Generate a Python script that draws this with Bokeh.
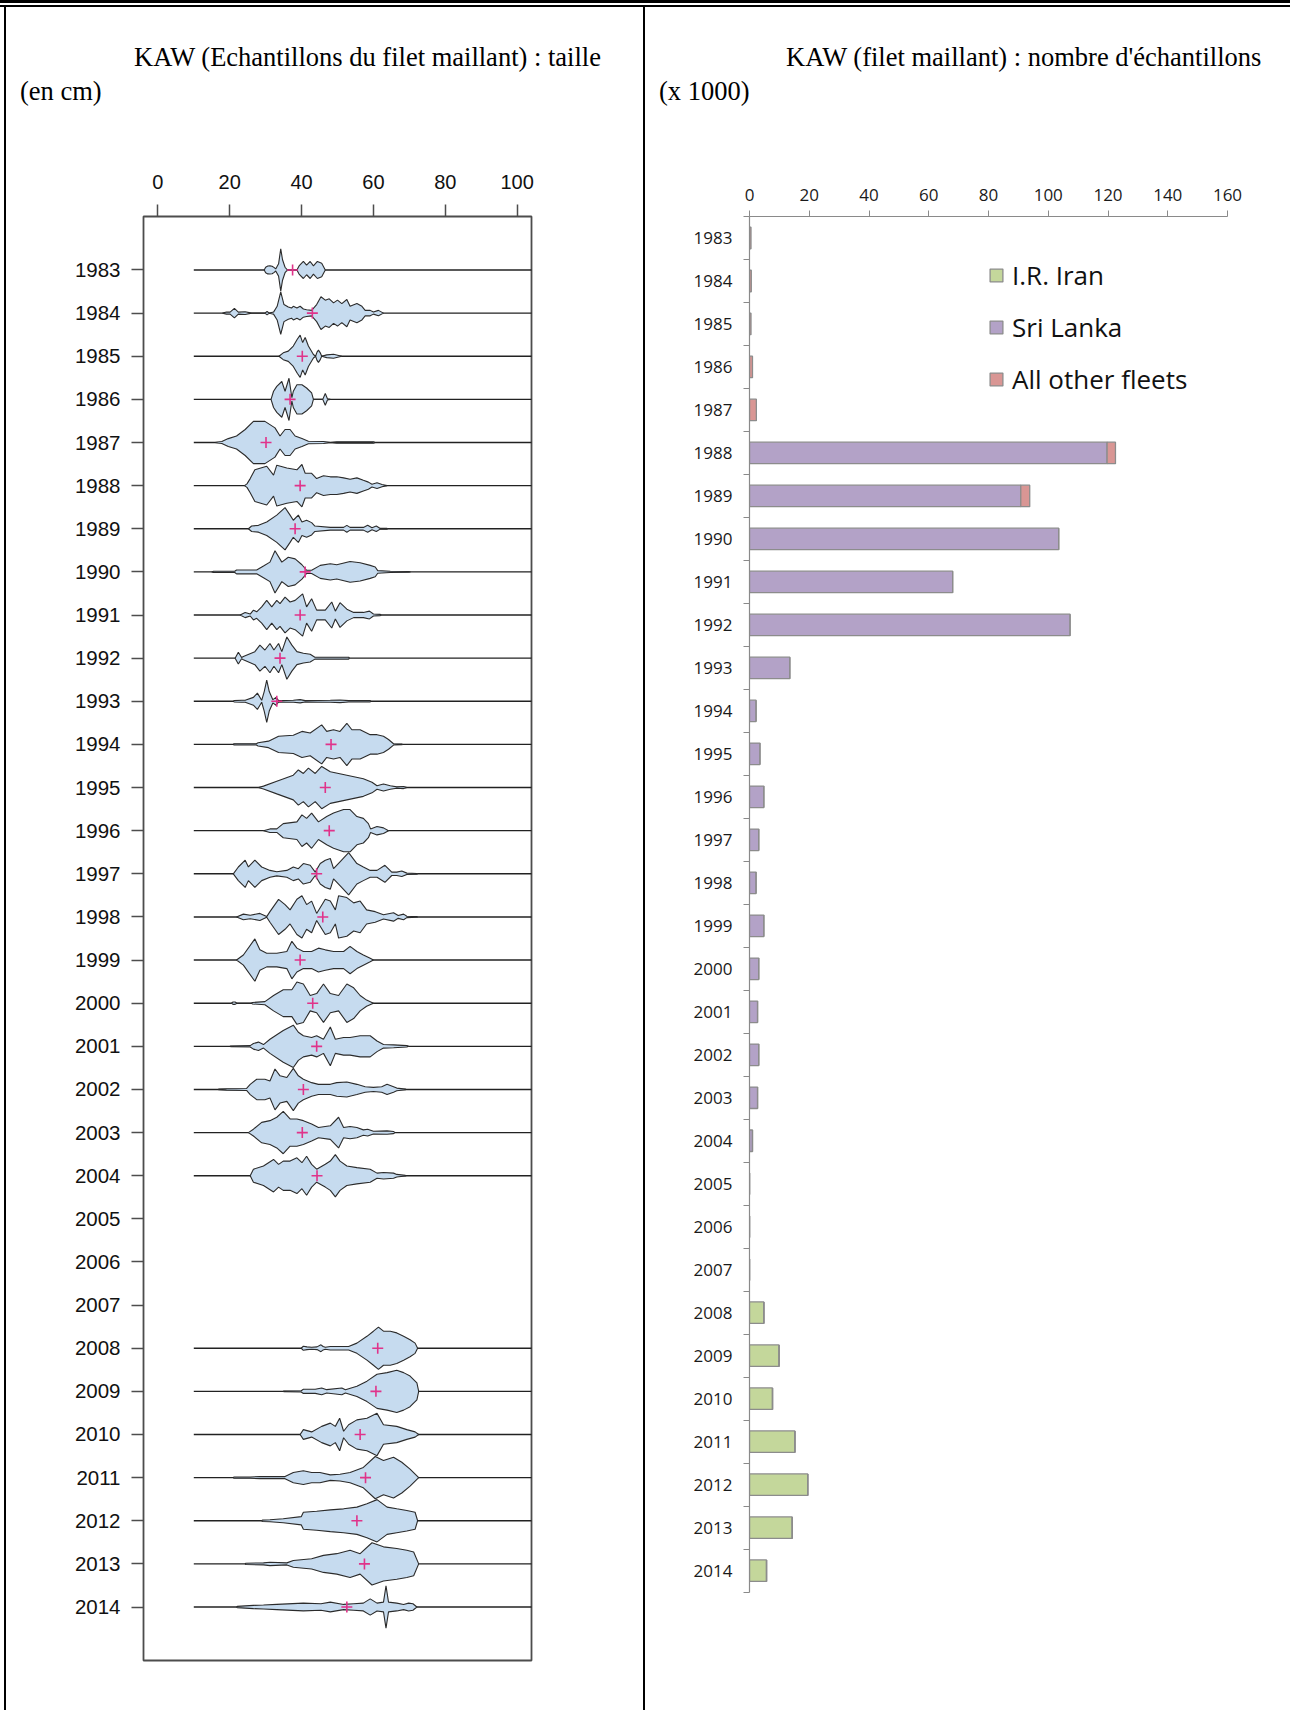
import numpy as np
from bokeh.plotting import figure
from bokeh.layouts import row, column
from bokeh.models import Range1d, FixedTicker, Legend, LegendItem, ColumnDataSource, Div
from bokeh.embed import file_html
from bokeh.resources import INLINE

# ---------------------------------------------------------------------------
# Length-frequency profiles (length class in cm, relative frequency) per year
# ---------------------------------------------------------------------------
LF_1983 = [(29.6, 0), (30.0, 8), (30.6, 11.5), (31.2, 12), (31.8, 11), (32.4, 7), (32.8, 3), (33.6, 18), (34.2, 62),
           (34.7, 30), (35.4, 8), (35.9, 2), (36.8, 0), (38.7, 0), (39.3, 12), (40.5, 25), (41.4, 14), (42.4, 25),
           (43.3, 12), (44.4, 25), (45.6, 20), (46.6, 0)]
LF_1984 = [(18.0, 0), (19.1, 3), (20.1, 3), (21.3, 14), (22.4, 3), (24.3, 4), (26.1, 0), (29.8, 0), (30.4, 5),
           (31.0, 0), (32.2, 3), (33.2, 20), (34.2, 62), (35.1, 25), (36.3, 18), (37.2, 15), (37.7, 20), (38.7, 15),
           (39.6, 20), (40.5, 12), (41.4, 10), (42.8, 8), (44.2, 25), (45.4, 48), (46.6, 38), (47.7, 42), (48.9, 30),
           (50.0, 38), (51.2, 28), (52.6, 40), (53.5, 20), (55.4, 28), (56.8, 20), (57.7, 8), (59.1, 8), (60.0, 3),
           (61.4, 8), (62.8, 0)]
LF_1985 = [(33.7, 0), (34.9, 10), (36.3, 15), (37.7, 30), (38.8, 50), (39.6, 62), (40.3, 40), (41.0, 55), (41.9, 30),
           (43.3, 5), (43.9, 0), (44.3, 12), (44.7, 18), (45.2, 10), (45.6, 0), (47.0, 4), (48.9, 6), (51.2, 0)]
LF_1986 = [(31.5, 0), (32.2, 25), (33.1, 40), (34.5, 55), (35.4, 25), (36.5, 65), (37.3, 5), (37.7, 25), (38.7, 45),
           (40.1, 45), (41.4, 35), (42.8, 20), (43.3, 0), (45.9, 0), (46.6, 18), (47.2, 2), (48.0, 0)]
LF_1987 = [(15.9, 0), (17.8, 3), (19.6, 12), (21.9, 20), (24.3, 40), (26.6, 65), (29.8, 65), (31.2, 55), (32.6, 45),
           (34.0, 20), (35.4, 40), (36.8, 40), (38.2, 20), (40.1, 12), (41.9, 4), (46.1, 3), (48.0, 0), (49.8, 2),
           (60.0, 2), (60.5, 0)]
LF_1988 = [(24.1, 0), (24.8, 5), (25.7, 20), (27.0, 45), (30.3, 55), (32.2, 30), (33.1, 58), (35.9, 50), (38.7, 45),
           (40.1, 60), (41.0, 35), (42.8, 35), (44.2, 20), (46.1, 28), (48.0, 25), (49.8, 25), (51.7, 22), (53.5, 18),
           (55.4, 22), (57.2, 15), (58.6, 10), (59.6, 4), (61.0, 8), (62.4, 3), (63.8, 0)]
LF_1989 = [(25.2, 0), (26.1, 8), (28.0, 10), (30.3, 20), (33.1, 40), (35.4, 62), (36.8, 40), (37.7, 25), (39.1, 40),
           (40.1, 20), (41.4, 25), (42.8, 18), (43.7, 8), (48.0, 4), (51.7, 4), (52.6, 10), (53.5, 4), (57.2, 4),
           (58.4, 10), (59.6, 3), (60.8, 8), (61.9, 1), (63.8, 1), (64.0, 0)]
LF_1990 = [(15.0, 0), (15.5, 2), (21.4, 2), (21.9, 6), (27.5, 6), (29.4, 18), (31.2, 30), (32.6, 65), (34.5, 30),
           (36.3, 45), (38.2, 40), (40.1, 22), (41.4, 5), (42.8, 5), (45.2, 20), (48.0, 25), (49.8, 22), (53.5, 32),
           (56.3, 28), (59.1, 20), (60.5, 15), (61.2, 4), (64.7, 2), (69.8, 1), (70.3, 0)]
LF_1991 = [(22.9, 0), (24.3, 8), (25.7, 3), (26.6, 15), (27.5, 10), (28.9, 25), (30.3, 45), (31.7, 25), (33.1, 45),
           (34.0, 35), (35.4, 55), (36.8, 40), (38.2, 45), (40.3, 65), (41.4, 25), (42.8, 50), (44.2, 15), (46.6, 15),
           (48.4, 40), (49.4, 12), (50.7, 38), (52.6, 18), (54.5, 8), (57.2, 8), (58.9, 12), (60.0, 3), (61.9, 2),
           (62.1, 0)]
LF_1992 = [(21.5, 0), (22.4, 18), (23.3, 2), (23.8, 5), (27.0, 20), (28.4, 40), (29.8, 25), (31.2, 45), (32.3, 25),
           (33.6, 45), (34.5, 20), (35.9, 65), (37.3, 40), (38.7, 20), (40.5, 15), (42.4, 12), (43.7, 3), (53.1, 3),
           (53.3, 0)]
LF_1993 = [(21.0, 0), (21.2, 2), (23.3, 3), (24.3, 3), (26.6, 12), (27.7, 25), (28.9, 3), (29.6, 30), (30.3, 65),
           (31.0, 30), (32.0, 5), (32.9, 12), (33.6, 2), (37.7, 3), (39.6, 5), (41.0, 2), (48.0, 3), (50.7, 4),
           (53.1, 2), (59.1, 2), (59.3, 0)]
LF_1994 = [(21.0, 0), (21.2, 2), (27.4, 2), (27.9, 5), (30.8, 10), (33.6, 25), (37.7, 28), (40.1, 40), (42.4, 35),
           (45.6, 60), (47.0, 40), (48.9, 45), (50.7, 40), (52.6, 65), (54.0, 45), (56.3, 45), (59.1, 30), (61.0, 30),
           (62.8, 25), (64.2, 15), (65.6, 2), (67.9, 1), (68.1, 0)]
LF_1995 = [(28.0, 0), (29.4, 4), (33.1, 18), (37.7, 35), (39.1, 50), (40.5, 40), (41.9, 55), (43.8, 40), (45.6, 60),
           (48.0, 45), (50.3, 40), (52.6, 35), (54.9, 30), (57.2, 25), (59.6, 15), (61.0, 5), (62.8, 10), (64.7, 5),
           (66.5, 2), (68.4, 3), (69.3, 0)]
LF_1996 = [(29.4, 0), (31.2, 5), (33.1, 5), (34.9, 20), (38.7, 25), (40.1, 45), (41.4, 35), (42.8, 50), (44.7, 25),
           (47.0, 40), (48.9, 50), (50.3, 55), (51.7, 60), (53.5, 60), (55.4, 40), (57.2, 35), (58.6, 20), (59.2, 5),
           (61.0, 12), (62.8, 8), (64.2, 0)]
LF_1997 = [(21.0, 0), (22.4, 20), (24.3, 40), (25.2, 20), (27.0, 40), (28.9, 20), (31.2, 10), (33.1, 6), (35.9, 10),
           (37.7, 20), (39.1, 15), (40.5, 30), (42.4, 25), (43.8, 5), (45.2, 30), (46.6, 40), (48.0, 45), (48.9, 15),
           (50.7, 35), (53.1, 62), (55.4, 30), (57.2, 20), (59.1, 10), (61.0, 10), (63.2, 25), (65.1, 5), (66.5, 5),
           (67.9, 8), (69.3, 2), (72.1, 1), (72.3, 0)]
LF_1998 = [(21.9, 0), (23.8, 8), (25.7, 5), (28.4, 10), (30.3, 1), (31.2, 15), (33.6, 50), (35.4, 35), (36.8, 20),
           (38.7, 50), (40.1, 60), (41.4, 35), (42.8, 45), (44.2, 10), (46.6, 50), (48.0, 45), (49.4, 20), (50.3, 60),
           (52.6, 55), (54.5, 40), (56.3, 45), (58.1, 20), (60.5, 15), (62.8, 6), (65.6, 12), (66.9, 4), (68.4, 8),
           (69.3, 2), (72.1, 1), (72.3, 0)]
LF_1999 = [(21.9, 0), (23.8, 15), (27.0, 62), (28.4, 30), (30.3, 20), (33.1, 20), (35.9, 25), (37.3, 55), (38.7, 35),
           (40.5, 25), (42.8, 25), (44.7, 35), (46.6, 30), (48.9, 25), (51.7, 25), (53.5, 40), (55.4, 25), (57.2, 15),
           (59.1, 5), (60.0, 0)]
LF_2000 = [(20.5, 0), (20.9, 3), (21.5, 3), (22.0, 0), (26.1, 0), (26.3, 2), (29.8, 4), (32.2, 20), (34.9, 35),
           (37.3, 35), (38.7, 55), (40.5, 50), (42.4, 20), (44.2, 25), (46.1, 50), (48.0, 25), (50.3, 20), (52.6, 50),
           (54.5, 40), (56.3, 20), (58.1, 8), (60.0, 0)]
LF_2001 = [(20.1, 0), (20.3, 1), (25.7, 2), (26.6, 8), (28.0, 12), (29.4, 5), (31.2, 20), (34.9, 45), (37.7, 60),
           (39.1, 40), (40.5, 30), (42.8, 25), (44.2, 30), (46.1, 20), (48.0, 55), (49.4, 20), (51.7, 25), (53.5, 25),
           (56.3, 30), (59.1, 30), (61.0, 15), (62.8, 5), (65.6, 4), (69.3, 2), (69.8, 0)]
LF_2002 = [(16.8, 0), (17.0, 1), (19.1, 2), (24.7, 3), (25.7, 15), (27.5, 30), (29.8, 30), (31.2, 25), (32.6, 60),
           (34.0, 40), (35.9, 35), (37.7, 62), (39.1, 40), (40.5, 30), (42.8, 20), (44.7, 15), (48.0, 15), (49.8, 20),
           (52.6, 22), (55.4, 15), (57.7, 8), (60.0, 6), (62.3, 8), (63.8, 15), (65.6, 8), (66.5, 4), (68.9, 1),
           (69.1, 0)]
LF_2003 = [(25.2, 0), (26.6, 10), (28.9, 30), (31.2, 35), (33.1, 45), (34.9, 62), (36.8, 40), (38.7, 40), (40.5, 35),
           (42.8, 25), (44.7, 15), (48.0, 20), (50.3, 45), (51.7, 15), (53.5, 18), (55.4, 15), (57.2, 8), (58.4, 10),
           (60.0, 4), (63.8, 5), (65.6, 3), (66.0, 0)]
LF_2004 = [(25.7, 0), (26.6, 20), (29.4, 30), (32.2, 50), (33.6, 35), (34.9, 45), (36.8, 45), (38.7, 55), (40.1, 40),
           (41.4, 60), (42.8, 35), (44.2, 20), (46.6, 35), (48.0, 45), (49.4, 65), (50.7, 45), (52.6, 30), (55.4, 25),
           (59.1, 20), (61.0, 8), (62.8, 10), (65.6, 8), (66.5, 4), (68.9, 1), (69.1, 0)]
LF_2008 = [(39.9, 0), (40.5, 6), (41.5, 4), (42.8, 3), (44.3, 4), (45.4, 10), (46.0, 5), (46.6, 3), (48.0, 5),
           (53.1, 5), (55.4, 15), (58.2, 35), (60.0, 50), (61.4, 62), (62.8, 50), (64.7, 50), (66.5, 45), (68.4, 35),
           (70.2, 25), (71.6, 15), (72.3, 0)]
LF_2009 = [(34.9, 0), (35.1, 1), (39.9, 2), (40.5, 6), (43.8, 6), (45.6, 10), (47.0, 5), (51.2, 10), (52.2, 5),
           (55.4, 15), (58.2, 30), (61.0, 50), (63.8, 55), (66.5, 62), (68.4, 55), (70.2, 45), (72.1, 25), (72.6, 0)]
LF_2010 = [(39.6, 0), (40.5, 15), (42.8, 8), (45.6, 25), (48.0, 35), (49.4, 25), (50.6, 50), (51.7, 10), (53.1, 30),
           (55.4, 45), (58.2, 50), (61.0, 65), (62.8, 30), (66.5, 25), (69.3, 15), (71.6, 8), (72.6, 0)]
LF_2011 = [(21.0, 0), (21.2, 2), (25.7, 2), (28.4, 3), (31.7, 3), (35.4, 3), (37.7, 15), (40.5, 20), (42.8, 15),
           (45.1, 15), (48.0, 8), (50.7, 10), (53.5, 15), (57.2, 30), (60.5, 62), (62.8, 50), (65.6, 60), (67.9, 45),
           (70.2, 25), (72.6, 0)]
LF_2012 = [(28.9, 0), (29.1, 2), (31.2, 3), (34.9, 6), (39.9, 12), (40.5, 25), (44.2, 28), (48.0, 32), (51.7, 35),
           (55.4, 40), (58.2, 50), (61.0, 62), (63.8, 40), (66.5, 35), (69.3, 30), (71.6, 25), (72.3, 0)]
LF_2013 = [(24.3, 0), (24.5, 2), (29.4, 3), (31.2, 5), (35.9, 3), (37.7, 10), (42.8, 15), (46.1, 25), (49.8, 30),
           (53.5, 40), (56.3, 30), (59.6, 62), (62.8, 50), (66.5, 45), (69.3, 40), (71.2, 35), (72.6, 0)]
LF_2014 = [(21.9, 0), (22.1, 2), (26.6, 5), (29.4, 6), (33.1, 8), (40.5, 12), (45.4, 10), (48.0, 15), (51.7, 8),
           (54.5, 10), (57.2, 12), (59.1, 25), (61.0, 12), (62.8, 15), (63.5, 65), (64.2, 15), (66.5, 12), (68.4, 8),
           (69.8, 12), (71.0, 10), (72.1, 0)]

length_freq = {
    1983: LF_1983, 1984: LF_1984, 1985: LF_1985, 1986: LF_1986, 1987: LF_1987, 1988: LF_1988,
    1989: LF_1989, 1990: LF_1990, 1991: LF_1991, 1992: LF_1992, 1993: LF_1993, 1994: LF_1994,
    1995: LF_1995, 1996: LF_1996, 1997: LF_1997, 1998: LF_1998, 1999: LF_1999, 2000: LF_2000,
    2001: LF_2001, 2002: LF_2002, 2003: LF_2003, 2004: LF_2004, 2008: LF_2008, 2009: LF_2009,
    2010: LF_2010, 2011: LF_2011, 2012: LF_2012, 2013: LF_2013, 2014: LF_2014,
}

# years with length samples and their mean length (cm)
LENGTH_YEARS = [1983, 1984, 1985, 1986, 1987, 1988, 1989, 1990, 1991, 1992, 1993, 1994, 1995, 1996, 1997,
                1998, 1999, 2000, 2001, 2002, 2003, 2004, 2008, 2009, 2010, 2011, 2012, 2013, 2014]
MEAN_LENGTH = [37.5, 43.0, 40.2, 36.8, 30.1, 39.6, 38.2, 41.0, 39.6, 34.0, 33.1, 48.2, 46.6, 47.7, 44.2,
               45.9, 39.6, 43.1, 44.2, 40.5, 40.2, 44.3, 61.2, 60.7, 56.3, 57.8, 55.4, 57.5, 52.6]

# ---------------------------------------------------------------------------
# Number of samples (x 1000) by fleet
# ---------------------------------------------------------------------------
YEARS = [1983, 1984, 1985, 1986, 1987, 1988, 1989, 1990, 1991, 1992, 1993, 1994, 1995, 1996, 1997, 1998,
         1999, 2000, 2001, 2002, 2003, 2004, 2005, 2006, 2007, 2008, 2009, 2010, 2011, 2012, 2013, 2014]
IRAN = [0, 0, 0, 0, 0, 0, 0, 0, 0, 0, 0, 0, 0, 0, 0, 0,
        0, 0, 0, 0, 0, 0, 0, 0, 0, 4.8, 9.9, 7.7, 15.2, 19.5, 14.3, 5.7]
SRI_LANKA = [0, 0, 0, 0, 0, 119.7, 90.8, 103.5, 68.0, 107.3, 13.5, 2.2, 3.5, 4.8, 3.1, 2.2,
             4.8, 3.1, 2.7, 3.1, 2.7, 1.0, 0, 0, 0, 0, 0, 0, 0, 0, 0, 0]
OTHER_FLEETS = [0.5, 0.6, 0.5, 1.0, 2.3, 2.8, 3.0, 0, 0, 0, 0, 0, 0, 0, 0, 0,
                0, 0, 0, 0, 0, 0, 0, 0, 0, 0, 0, 0, 0, 0, 0, 0]
FLEET_NAMES = ["I.R. Iran", "Sri Lanka", "All other fleets"]
FLEET_COLORS = ["#c4d79b", "#b3a2c7", "#d99694"]

LENGTH_TICKS = [0, 20, 40, 60, 80, 100]
COUNT_TICKS = [0, 20, 40, 60, 80, 100, 120, 140, 160]

# panel headings: first line and second line of each
LEFT_HEADING = ["KAW (Echantillons du filet maillant) : taille", "(en cm)"]
RIGHT_HEADING = ["KAW (filet maillant) : nombre d'échantillons", "(x 1000)"]

HEAD_H = 130                 # height of the heading strip above each chart
CHART_H = 1703 - HEAD_H      # height of each chart canvas
FRAME_TOP, FRAME_BOTTOM = 79, 50


def heading(width, lines, lefts, tops):
    """Heading strip: two serif lines, each placed at its own indent."""
    parts = "".join(
        f'<div style="position:absolute;left:{x}px;top:{t}px;white-space:nowrap;">{txt}</div>'
        for txt, x, t in zip(lines, lefts, tops)
    )
    html = (f'<div style="position:relative;width:{width}px;height:{HEAD_H}px;'
            f"font-family:'Liberation Serif',serif;font-size:26.5px;line-height:30px;color:#000000;\">"
            f"{parts}</div>")
    return Div(text=html, width=width, height=HEAD_H, margin=0)


# ---------------------------------------------------------------------------
# Left panel: length distributions
# ---------------------------------------------------------------------------
pl = figure(width=637, height=CHART_H, x_range=Range1d(-4, 104), y_range=Range1d(2015.24, 1981.76),
            x_axis_location="above", toolbar_location=None, output_backend="svg",
            min_border_left=137, min_border_right=112, min_border_top=FRAME_TOP, min_border_bottom=FRAME_BOTTOM)
pl.grid.visible = False
pl.outline_line_color = "#4d4d4d"
pl.outline_line_width = 1.8

xa = pl.xaxis[0]
xa.ticker = FixedTicker(ticks=LENGTH_TICKS)
xa.axis_line_color = None
xa.major_tick_out = 12
xa.major_tick_in = 0
xa.major_tick_line_color = "#4d4d4d"
xa.major_tick_line_width = 1.5
xa.major_label_text_font = "Liberation Sans"
xa.major_label_text_font_size = "20px"
xa.major_label_text_color = "#111111"
xa.major_label_standoff = 16

ya = pl.yaxis[0]
ya.ticker = FixedTicker(ticks=YEARS)
ya.axis_line_color = None
ya.major_tick_out = 12
ya.major_tick_in = 0
ya.major_tick_line_color = "#4d4d4d"
ya.major_tick_line_width = 1.5
ya.major_label_text_font = "Liberation Sans"
ya.major_label_text_font_size = "20.5px"
ya.major_label_text_color = "#111111"
ya.major_label_standoff = 11

# baseline for each sampled year
pl.segment(x0=10, x1=110, y0=LENGTH_YEARS, y1=LENGTH_YEARS, line_color="#222222", line_width=1.4)

# mirrored frequency polygons
xs, ys = [], []
for yr in LENGTH_YEARS:
    pts = length_freq[yr]
    cm = np.array([p[0] for p in pts])
    f = np.array([p[1] for p in pts], dtype=float)
    hw = 0.49 * f / f.max()
    xs.append(np.concatenate([cm, cm[::-1]]).tolist())
    ys.append(np.concatenate([yr - hw, (yr + hw)[::-1]]).tolist())
pl.patches(xs="xs", ys="ys", source=ColumnDataSource(dict(xs=xs, ys=ys)),
           fill_color="#c6dbef", line_color="#2b2b2b", line_width=1.1)

pl.scatter(x=MEAN_LENGTH, y=LENGTH_YEARS, marker="cross", size=11,
           line_color="#e0338a", line_width=1.6)

# ---------------------------------------------------------------------------
# Right panel: number of samples by fleet
# ---------------------------------------------------------------------------
pr = figure(width=645, height=CHART_H, x_range=Range1d(0, 160), y_range=Range1d(2016.09, 1982.5),
            x_axis_location="above", toolbar_location=None, output_backend="svg",
            min_border_left=104, min_border_right=63, min_border_top=FRAME_TOP, min_border_bottom=FRAME_BOTTOM)
pr.grid.visible = False
pr.outline_line_color = None

src = ColumnDataSource(dict(year=YEARS, iran=IRAN, sri_lanka=SRI_LANKA, other=OTHER_FLEETS))
bars = pr.hbar_stack(["iran", "sri_lanka", "other"], y="year", height=0.5, color=FLEET_COLORS,
                     source=src, line_color="#8c8c8c", line_width=1.3)

xr = pr.xaxis[0]
xr.ticker = FixedTicker(ticks=COUNT_TICKS)
xr.axis_line_color = "#8a8a8a"
xr.axis_line_width = 1.2
xr.major_tick_out = 6
xr.major_tick_in = 0
xr.major_tick_line_color = "#8a8a8a"
xr.major_label_text_font = "Open Sans"
xr.major_label_text_font_size = "17px"
xr.major_label_text_color = "#1a1a1a"
xr.major_label_standoff = 10

yr_ax = pr.yaxis[0]
yr_ax.ticker = FixedTicker(ticks=YEARS, minor_ticks=[y - 0.5 for y in YEARS] + [YEARS[-1] + 0.5])
yr_ax.bounds = (1982.5, 2014.5)
yr_ax.axis_line_color = "#8a8a8a"
yr_ax.axis_line_width = 1.2
yr_ax.major_tick_out = 0
yr_ax.major_tick_in = 0
yr_ax.minor_tick_out = 6
yr_ax.minor_tick_in = 0
yr_ax.minor_tick_line_color = "#8a8a8a"
yr_ax.major_label_text_font = "Open Sans"
yr_ax.major_label_text_font_size = "17px"
yr_ax.major_label_text_color = "#1a1a1a"
yr_ax.major_label_standoff = 11

legend = Legend(items=[LegendItem(label=name, renderers=[r]) for name, r in zip(FLEET_NAMES, bars)],
                location=(239, 1263), orientation="vertical",
                label_text_font="Open Sans", label_text_font_size="26px", label_text_color="#111111",
                glyph_width=16, glyph_height=16, label_height=28, label_standoff=8, spacing=16,
                padding=0, margin=0, border_line_color=None, background_fill_alpha=0)
pr.add_layout(legend)

head_left = heading(637, LEFT_HEADING, [128, 14], [34.5, 68.5])
head_right = heading(645, RIGHT_HEADING, [141, 14], [34.5, 68.5])


# ---------------------------------------------------------------------------
# Table rules around the two panels
# ---------------------------------------------------------------------------
def rule(w, h, color):
    return Div(text="", width=w, height=h, margin=0, styles={"background-color": color})


top = column(rule(1290, 3, "#000000"), rule(1290, 2, "#ffffff"), rule(1290, 2, "#000000"), spacing=0)
body = row(rule(4, 1703, "#ffffff"), rule(2, 1703, "#000000"),
           column(head_left, pl, spacing=0),
           rule(2, 1703, "#000000"),
           column(head_right, pr, spacing=0), spacing=0)
page = column(top, body, spacing=0)

open("out.html", "w", encoding="utf-8").write(file_html(page, INLINE))
